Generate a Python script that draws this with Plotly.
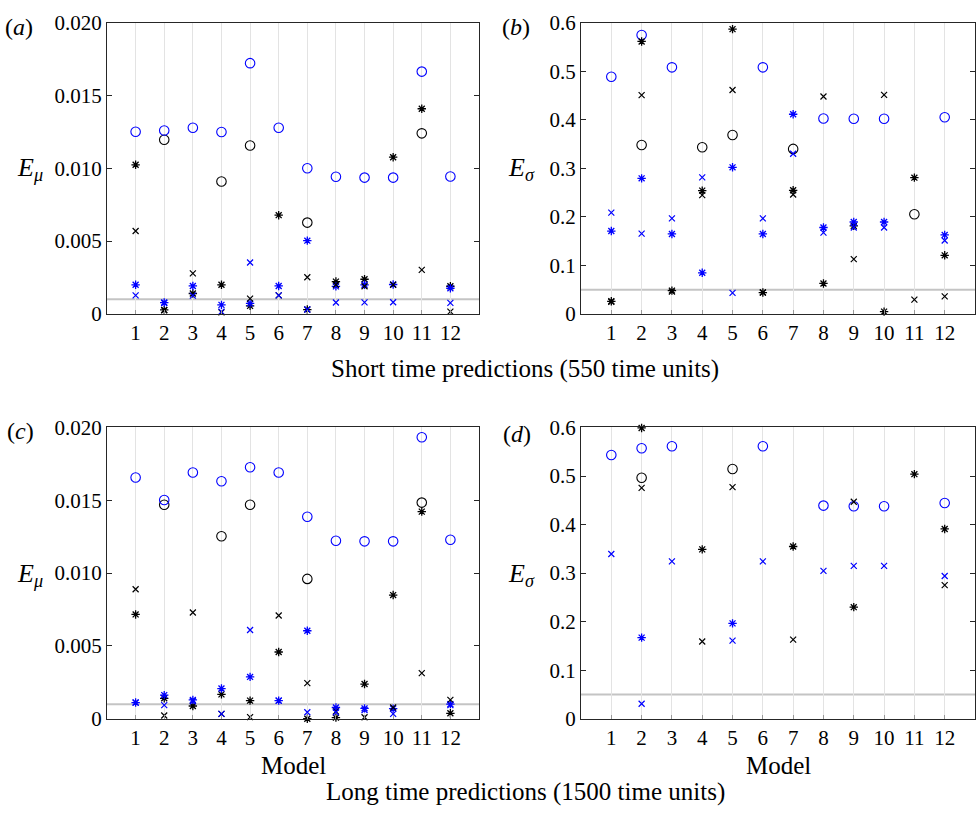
import plotly.graph_objects as go

W, H = 977, 820
FONT = "Liberation Serif, Times New Roman, serif"

models = list(range(1, 13))

# ---- Short time predictions, E_mu ----
a_blue_circle = [0.01251, 0.0126, 0.01278, 0.01249, 0.01722, 0.01278, 0.0100, 0.00942, 0.00936, 0.00936, 0.01664, 0.00944]
a_black_circle = [None, 0.01196, None, 0.00909, 0.01156, None, 0.00627, None, None, None, 0.0124, None]
a_black_ast = [0.01024, 0.00027, 0.0014, 0.0020, 0.00055, 0.00678, 0.0003, 0.00222, 0.00238, 0.01076, 0.01409, 0.0019]
a_blue_ast = [0.0020, 0.00078, 0.00192, 0.00062, 0.00072, 0.00192, 0.00503, 0.00189, 0.0020, 0.00202, None, 0.00176]
a_black_x = [0.00569, 0.00025, 0.00278, 0.0001, 0.00105, 0.00127, 0.00252, 0.0020, 0.0019, 0.0020, 0.00302, 0.00016]
a_blue_x = [0.00127, 0.00075, 0.00125, 0.00016, 0.00353, 0.00127, 0.0003, 0.00078, 0.00079, 0.0008, None, 0.00076]

# ---- Short time predictions, E_sigma ----
b_blue_circle = [0.4887, 0.5747, 0.508, None, None, 0.508, None, 0.4027, 0.402, 0.402, None, 0.4053]
b_black_circle = [None, 0.348, None, 0.3433, 0.3687, None, 0.34, None, None, None, 0.2053, None]
b_black_ast = [0.026, 0.5613, 0.048, 0.254, 0.5867, 0.044, 0.2547, 0.0627, 0.1813, 0.0047, 0.2807, 0.1207]
b_blue_ast = [0.1707, 0.2793, 0.1647, 0.0847, 0.302, 0.1647, 0.4113, 0.178, 0.1893, 0.1893, None, 0.1627]
b_black_x = [0.025, 0.4507, 0.046, 0.2447, 0.4613, 0.044, 0.246, 0.448, 0.1127, 0.4513, 0.0293, 0.036]
b_blue_x = [0.2087, 0.1653, 0.1967, 0.2813, 0.0433, 0.1967, 0.33, 0.1673, 0.178, 0.178, None, 0.1513]

# ---- Long time predictions, E_mu ----
c_blue_circle = [0.01656, 0.01502, 0.01691, 0.01631, 0.01727, 0.01691, 0.01387, 0.01222, 0.01218, 0.01218, 0.01933, 0.01229]
c_black_circle = [None, 0.01469, None, 0.01253, 0.01469, None, 0.0096, None, None, None, 0.01484, None]
c_black_ast = [0.00716, 0.0014, 0.00087, 0.00167, 0.00124, 0.00458, 0.0, 0.00007, 0.00238, 0.00849, 0.01422, 0.00037]
c_blue_ast = [0.00111, 0.00162, 0.00129, 0.00207, 0.00287, 0.00124, 0.00604, 0.00077, 0.00071, 0.00069, None, 0.0010]
c_black_x = [0.00889, 0.00022, 0.00729, 0.00033, 0.00011, 0.00709, 0.00244, 0.0005, 0.0001, 0.00077, 0.00313, 0.00129]
c_blue_x = [0.0011, 0.00093, 0.0012, 0.00033, 0.00609, 0.00124, 0.00044, 0.00044, 0.0006, 0.00033, None, 0.00093]

# ---- Long time predictions, E_sigma ----
d_blue_circle = [0.5432, 0.5572, 0.5612, None, None, 0.5612, None, 0.439, 0.4376, 0.4376, None, 0.4443]
d_black_circle = [None, 0.4964, None, None, 0.5145, None, None, None, None, None, None, None]
d_black_ast = [None, 0.599, None, 0.3488, None, None, 0.3548, None, 0.2298, None, 0.5038, 0.3909]
d_blue_ast = [None, 0.167, None, None, 0.1964, None, None, None, None, None, None, None]
d_black_x = [None, 0.4757, None, 0.159, 0.477, None, 0.163, None, 0.447, None, None, 0.2753]
d_blue_x = [0.3394, 0.0307, 0.324, None, 0.161, 0.324, None, 0.3047, 0.3147, 0.3147, None, 0.294]

mu_ticks = [0, 0.005, 0.010, 0.015, 0.020]
mu_ticktext = ["0", "0.005", "0.010", "0.015", "0.020"]
sigma_ticks = [0, 0.1, 0.2, 0.3, 0.4, 0.5, 0.6]
sigma_ticktext = ["0", "0.1", "0.2", "0.3", "0.4", "0.5", "0.6"]
mu_threshold = 0.001
sigma_threshold = 0.05

BLUE = "#0000ff"
BLACK = "#000000"
TICK_SIZE = 21
TITLE_SIZE = 25


def px_x(p):
    return p / W


def px_y(p):
    return 1 - p / H


# panel pixel boxes: (left, right, top, bottom)
boxes = {
    1: (107, 479, 11, 311),
    2: (581, 975, 11, 311),
    3: (107, 479, 428, 728),
    4: (581, 975, 428, 728),
}

panels = [
    (1, [a_black_circle, a_blue_circle, a_black_ast, a_blue_ast, a_black_x, a_blue_x], "mu"),
    (2, [b_black_circle, b_blue_circle, b_black_ast, b_blue_ast, b_black_x, b_blue_x], "sigma"),
    (3, [c_black_circle, c_blue_circle, c_black_ast, c_blue_ast, c_black_x, c_blue_x], "mu"),
    (4, [d_black_circle, d_blue_circle, d_black_ast, d_blue_ast, d_black_x, d_blue_x], "sigma"),
]

styles = [
    ("circle-open", BLACK, 9.5, 1.1),
    ("circle-open", BLUE, 9.5, 1.1),
    ("asterisk-open", BLACK, 7, 1.3),
    ("asterisk-open", BLUE, 7, 1.3),
    ("x-thin-open", BLACK, 6, 1.2),
    ("x-thin-open", BLUE, 6, 1.2),
]

fig = go.Figure()
layout = {}
shapes = []

for idx, series, kind in panels:
    xa = "x" if idx == 1 else f"x{idx}"
    ya = "y" if idx == 1 else f"y{idx}"
    for vals, (sym, col, size, lw) in zip(series, styles):
        fig.add_trace(go.Scatter(
            x=models, y=vals, xaxis=xa, yaxis=ya, mode="markers",
            cliponaxis=False, showlegend=False,
            marker=dict(symbol=sym, size=size, color=col,
                        line=dict(color=col, width=lw)),
        ))
    l, r, t, b = boxes[idx]
    xkey = "xaxis" if idx == 1 else f"xaxis{idx}"
    ykey = "yaxis" if idx == 1 else f"yaxis{idx}"
    layout[xkey] = dict(
        domain=[px_x(l), px_x(r)], range=[0, 13], anchor=ya,
        tickvals=models, ticktext=[str(m) for m in models],
        ticks="inside", ticklen=4, tickcolor="#999999",
        showgrid=True, gridcolor="#e3e3e3", gridwidth=1,
        showline=True, linecolor="#262626", linewidth=1, mirror=True,
        zeroline=False, tickfont=dict(family=FONT, size=TICK_SIZE, color="#000"),
    )
    if kind == "mu":
        rng, tv, tt, thr = [0, 0.020], mu_ticks, mu_ticktext, mu_threshold
    else:
        rng, tv, tt, thr = [0, 0.6], sigma_ticks, sigma_ticktext, sigma_threshold
    layout[ykey] = dict(
        domain=[px_y(b), px_y(t)], range=rng, anchor=xa,
        tickvals=tv, ticktext=tt, ticks="inside", ticklen=5,
        tickcolor="#262626", showgrid=False, zeroline=False,
        showline=True, linecolor="#262626", linewidth=1, mirror="ticks",
        tickfont=dict(family=FONT, size=TICK_SIZE, color="#000"),
    )
    # horizontal reference level across the panel
    shapes.append(dict(
        type="line", xref="x domain" if idx == 1 else f"x{idx} domain", yref=ya,
        x0=0, x1=1, y0=thr, y1=thr,
        line=dict(color="#c4c4c4", width=2), layer="below",
    ))

annotations = []


def note(text, x, y, size=TITLE_SIZE, xanchor="center"):
    annotations.append(dict(
        text=text, x=px_x(x), y=px_y(y), xref="paper", yref="paper",
        showarrow=False, xanchor=xanchor, yanchor="middle",
        font=dict(family=FONT, size=size, color="#000"),
    ))


note("(<i>a</i>)", 19, 15, size=24)
note("(<i>b</i>)", 516, 15, size=24)
note("(<i>c</i>)", 20, 432, size=24)
note("(<i>d</i>)", 517, 435, size=24)
note("<i>E</i><sub><i>μ</i></sub>", 30, 162, size=26)
note("<i>E</i><sub><i>μ</i></sub>", 30, 580, size=26)
note("<i>E</i><sub><i>σ</i></sub>", 521, 162, size=26)
note("<i>E</i><sub><i>σ</i></sub>", 521, 580, size=26)
note("Short time predictions (550 time units)", 525, 368)
note("Model", 293, 776)
note("Model", 778, 776)
note("Long time predictions (1500 time units)", 525, 804)

fig.update_layout(
    width=W, height=H, margin=dict(l=0, r=0, t=0, b=0),
    paper_bgcolor="white", plot_bgcolor="white",
    shapes=shapes, annotations=annotations, **layout,
)

fig.write_html("out.html")
